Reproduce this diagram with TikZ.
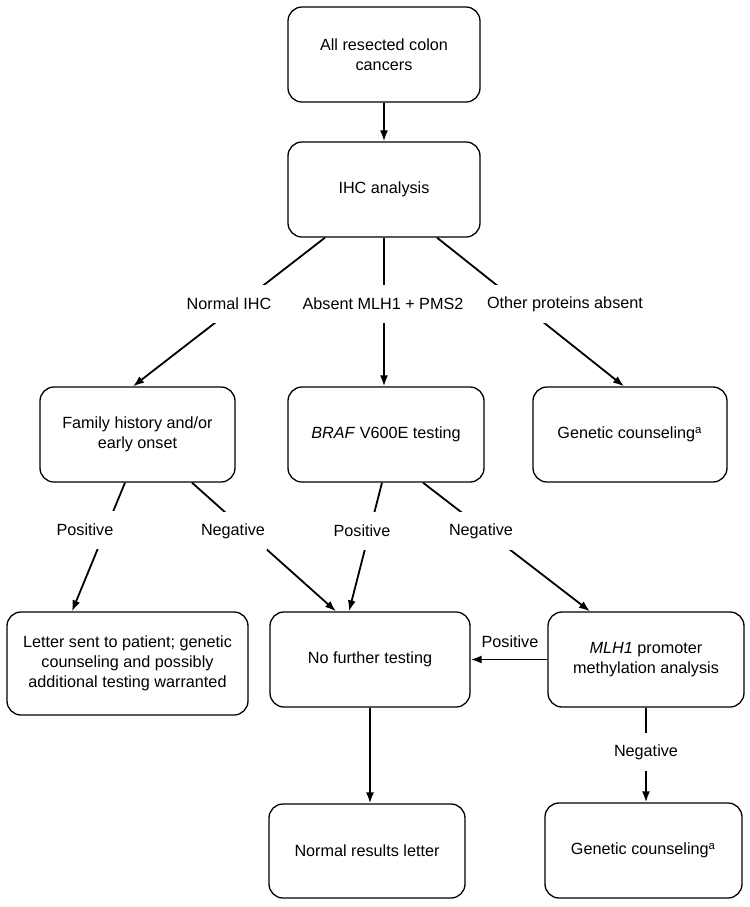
\documentclass[tikz,border=0pt]{standalone}
\usepackage{fontspec}
\setmainfont{Liberation Sans}
\usetikzlibrary{arrows.meta}

\tikzset{
  flowbox/.style={draw, line width=0.65pt, rounded corners=7pt, align=center,
    minimum width=97pt, minimum height=47.5pt, inner sep=2pt,
    font=\fontsize{8.1}{10}\selectfont},
  branch/.style={fill=white, minimum height=19pt, inner xsep=1pt, inner ysep=0pt,
    font=\fontsize{8.1}{10}\selectfont},
  plainlabel/.style={inner sep=1pt, font=\fontsize{8.1}{10}\selectfont},
  flow/.style={line width=0.9pt, -{Latex[length=5.5pt,width=4pt]}}
}

\begin{document}
\begin{tikzpicture}[x=0.5pt,y=-0.5pt]
\useasboundingbox (0,0) rectangle (750,907);

\node[flowbox, minimum width=96pt] (start) at (384,54.5) {All resected colon\\cancers};
\node[flowbox, minimum width=96pt] (ihc) at (384,189.5) {IHC analysis};

\node[flowbox, minimum width=97.5pt] (fam) at (137.5,434.5) {Family history and/or\\early onset};
\node[flowbox, minimum width=98pt] (braf) at (386,434.5) {\textit{BRAF} V600E testing};
\node[flowbox, minimum width=97pt] (gcone) at (630,434.5) {Genetic counseling\textsuperscript{a}};

\node[flowbox, minimum width=120.5pt, minimum height=51.5pt] (letter) at (127.5,663.5) {Letter sent to patient; genetic\\counseling and possibly\\additional testing warranted};
\node[flowbox, minimum width=100pt] (nofurther) at (370,659.5) {No further testing};
\node[flowbox, minimum width=98pt] (mlh) at (646,659.5) {\textit{MLH1} promoter\\methylation analysis};

\node[flowbox, minimum width=98pt, minimum height=47pt] (normal) at (367,851) {Normal results letter};
\node[flowbox, minimum width=98.5pt, minimum height=47.5pt] (gctwo) at (643.5,850.5) {Genetic counseling\textsuperscript{a}};

\draw[flow] (start.south) -- (start.south |- ihc.north);

\draw[flow] ([xshift=-29.5pt]ihc.south) -- ([xshift=-2.25pt]fam.north);
\draw[flow] (ihc.south) -- (ihc.south |- braf.north);
\draw[flow] ([xshift=26.5pt]ihc.south) -- ([xshift=-3pt]gcone.north);

\draw[flow] ([xshift=-6.25pt]fam.south) -- ([xshift=-27.75pt]letter.north);
\draw[flow] ([xshift=27.25pt]fam.south) -- ([xshift=-17pt]nofurther.north);
\draw[flow] ([xshift=-2pt]braf.south) -- ([xshift=-10.5pt]nofurther.north);
\draw[flow] ([xshift=18.5pt]braf.south) -- ([xshift=-28pt]mlh.north);

\draw[flow] (mlh.west) -- (nofurther.east);
\draw[flow] (nofurther.south) -- (nofurther.south |- normal.north);
\draw[flow] (mlh.south) -- (mlh.south |- gctwo.north);

\node[branch] (lblnormal) at (229,304) {Normal IHC};
\node[branch] (lblabsent) at (383,304) {Absent MLH1 + PMS2};
\node[branch] (lblother) at (565,304) {Other proteins absent};

\node[branch] (lblfampos) at (85,530) {Positive};
\node[branch] (lblfamneg) at (233,531) {Negative};
\node[branch] (lblbrafpos) at (362,531) {Positive};
\node[branch] (lblbrafneg) at (481,531) {Negative};

\node[plainlabel] (lblmlhpos) at (510,642) {Positive};
\node[branch] (lblmlhneg) at (646,752) {Negative};
\end{tikzpicture}
\end{document}
